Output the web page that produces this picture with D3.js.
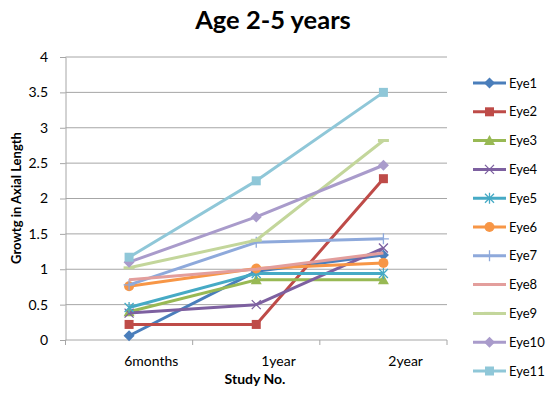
<!DOCTYPE html>
<html>
<head>
<meta charset="utf-8">
<script src="https://cdn.jsdelivr.net/npm/d3@7"></script>
<style>
  html, body { margin: 0; padding: 0; background: #fff; }
  svg text { font-family: Lato, "Open Sans", sans-serif; fill: #000; }
</style>
</head>
<body>
<svg id="chart" width="547" height="394"></svg>
<script>
// Study time points
const categories = ["6months", "1year", "2year"];
// Series names
const seriesNames = ["Eye1", "Eye2", "Eye3", "Eye4", "Eye5", "Eye6", "Eye7", "Eye8", "Eye9", "Eye10", "Eye11"];
// Growth in axial length per eye at each time point
const eye1 = [0.06, 0.97, 1.2];
const eye2 = [0.22, 0.22, 2.28];
const eye3 = [0.4, 0.85, 0.85];
const eye4 = [0.38, 0.5, 1.3];
const eye5 = [0.46, 0.94, 0.94];
const eye6 = [0.76, 1.01, 1.09];
const eye7 = [0.78, 1.38, 1.43];
const eye8 = [0.85, 1.0, 1.23];
const eye9 = [1.02, 1.41, 2.82];
const eye10 = [1.1, 1.74, 2.47];
const eye11 = [1.17, 2.25, 3.5];
const yTicks = [0, 0.5, 1, 1.5, 2, 2.5, 3, 3.5, 4];

const seriesValues = [eye1, eye2, eye3, eye4, eye5, eye6, eye7, eye8, eye9, eye10, eye11];
const colors = ["#4A7EBB", "#BE4B48", "#98B954", "#7D60A0", "#46AAC5", "#F79646",
                "#8EA9DB", "#E39E9C", "#C3D69B", "#A99BCB", "#8FC7D8"];
const markers = ["diamond", "square", "triangle", "x", "star", "circle", "plus", "none", "dash", "diamond", "square"];

const svg = d3.select("#chart");
const plotLeft = 65.5, plotRight = 447, plotTop = 57, plotBottom = 340;

const x = d3.scalePoint().domain(categories).range([plotLeft, plotRight]).padding(0.5);
const xBand = d3.scaleBand().domain(categories).range([plotLeft, plotRight]);
const y = d3.scaleLinear().domain([0, 4]).range([plotBottom, plotTop]);

// Title
svg.append("text").attr("x", 273).attr("y", 29).attr("text-anchor", "middle")
  .style("font-size", "25.5px").style("font-weight", "bold").text("Age 2-5 years");

// Horizontal gridlines
svg.append("g").selectAll("line").data(yTicks.filter(d => d > 0)).join("line")
  .attr("x1", plotLeft).attr("x2", plotRight)
  .attr("y1", d => y(d)).attr("y2", d => y(d))
  .attr("stroke", "#a6a6a6").attr("stroke-width", 1);

// Y axis
const yAxis = svg.append("g").attr("transform", `translate(${plotLeft},0)`)
  .call(d3.axisLeft(y).tickValues(yTicks).tickSize(5.5).tickPadding(12).tickFormat(d3.format("")));
yAxis.select(".domain").attr("stroke", "#a6a6a6");
yAxis.selectAll(".tick line").attr("stroke", "#a6a6a6");
yAxis.selectAll(".tick text").style("font-size", "14px").style("font-family", "Lato, sans-serif").attr("fill", "#000");

// X axis with ticks at category boundaries
const xAxisG = svg.append("g").attr("transform", `translate(0,${plotBottom})`);
xAxisG.append("line").attr("x1", plotLeft).attr("x2", plotRight).attr("stroke", "#a6a6a6");
const bounds = categories.map(c => xBand(c)).concat([xBand(categories[categories.length - 1]) + xBand.bandwidth()]);
xAxisG.selectAll("line.tk").data(bounds).join("line").attr("class", "tk")
  .attr("x1", d => d).attr("x2", d => d).attr("y1", 0).attr("y2", 5).attr("stroke", "#a6a6a6");
const labelShift = xBand.bandwidth() * 0.175;
xAxisG.selectAll("text").data(categories).join("text")
  .attr("x", d => x(d) + labelShift).attr("y", 26).attr("text-anchor", "middle")
  .style("font-size", "14px").text(d => d);

// Axis titles
svg.append("text").attr("x", 255).attr("y", 384).attr("text-anchor", "middle")
  .style("font-size", "14px").style("font-weight", "bold").text("Study No.");
svg.append("text").attr("transform", "translate(21,198) rotate(-90)").attr("text-anchor", "middle")
  .style("font-size", "13px").style("font-weight", "bold").text("Growtg in Axial Length");

function drawMarker(g, type, cx, cy, color) {
  const s = 4.5;
  if (type === "diamond") {
    g.append("path").attr("d", `M${cx},${cy - s - 1}L${cx + s + 1},${cy}L${cx},${cy + s + 1}L${cx - s - 1},${cy}Z`).attr("fill", color);
  } else if (type === "square") {
    g.append("rect").attr("x", cx - s).attr("y", cy - s).attr("width", 2 * s).attr("height", 2 * s).attr("fill", color);
  } else if (type === "triangle") {
    g.append("path").attr("d", `M${cx},${cy - s - 1}L${cx + s + 1},${cy + s}L${cx - s - 1},${cy + s}Z`).attr("fill", color);
  } else if (type === "circle") {
    g.append("circle").attr("cx", cx).attr("cy", cy).attr("r", s + 0.5).attr("fill", color);
  } else if (type === "x") {
    g.append("path").attr("d", `M${cx - s},${cy - s}L${cx + s},${cy + s}M${cx - s},${cy + s}L${cx + s},${cy - s}`)
      .attr("stroke", color).attr("stroke-width", 1.3);
  } else if (type === "star") {
    g.append("path").attr("d", `M${cx - s},${cy - s}L${cx + s},${cy + s}M${cx - s},${cy + s}L${cx + s},${cy - s}M${cx},${cy - s - 1}L${cx},${cy + s + 1}`)
      .attr("stroke", color).attr("stroke-width", 1.3);
  } else if (type === "plus") {
    g.append("path").attr("d", `M${cx - s - 1},${cy}L${cx + s + 1},${cy}M${cx},${cy - s - 1}L${cx},${cy + s + 1}`)
      .attr("stroke", color).attr("stroke-width", 1.3);
  } else if (type === "dash") {
    g.append("path").attr("d", `M${cx - s - 1},${cy}L${cx + s + 1},${cy}`)
      .attr("stroke", color).attr("stroke-width", 3);
  }
}

// Series lines and markers
const line = d3.line().x((d, i) => x(categories[i])).y(d => y(d));
const plot = svg.append("g");
seriesValues.forEach((vals, si) => {
  const g = plot.append("g");
  g.append("path").datum(vals).attr("d", line).attr("fill", "none")
    .attr("stroke", colors[si]).attr("stroke-width", 3).attr("stroke-linejoin", "round");
  vals.forEach((v, i) => drawMarker(g, markers[si], x(categories[i]), y(v), colors[si]));
});

// Legend
const legend = svg.append("g");
seriesNames.forEach((name, i) => {
  const ly = 83 + i * 28.8;
  const g = legend.append("g");
  g.append("line").attr("x1", 473).attr("x2", 506).attr("y1", ly).attr("y2", ly)
    .attr("stroke", colors[i]).attr("stroke-width", 3);
  drawMarker(g, markers[i], 489.5, ly, colors[i]);
  g.append("text").attr("x", 509).attr("y", ly + 4.5).style("font-size", "13px").text(name);
});
</script>
</body>
</html>
